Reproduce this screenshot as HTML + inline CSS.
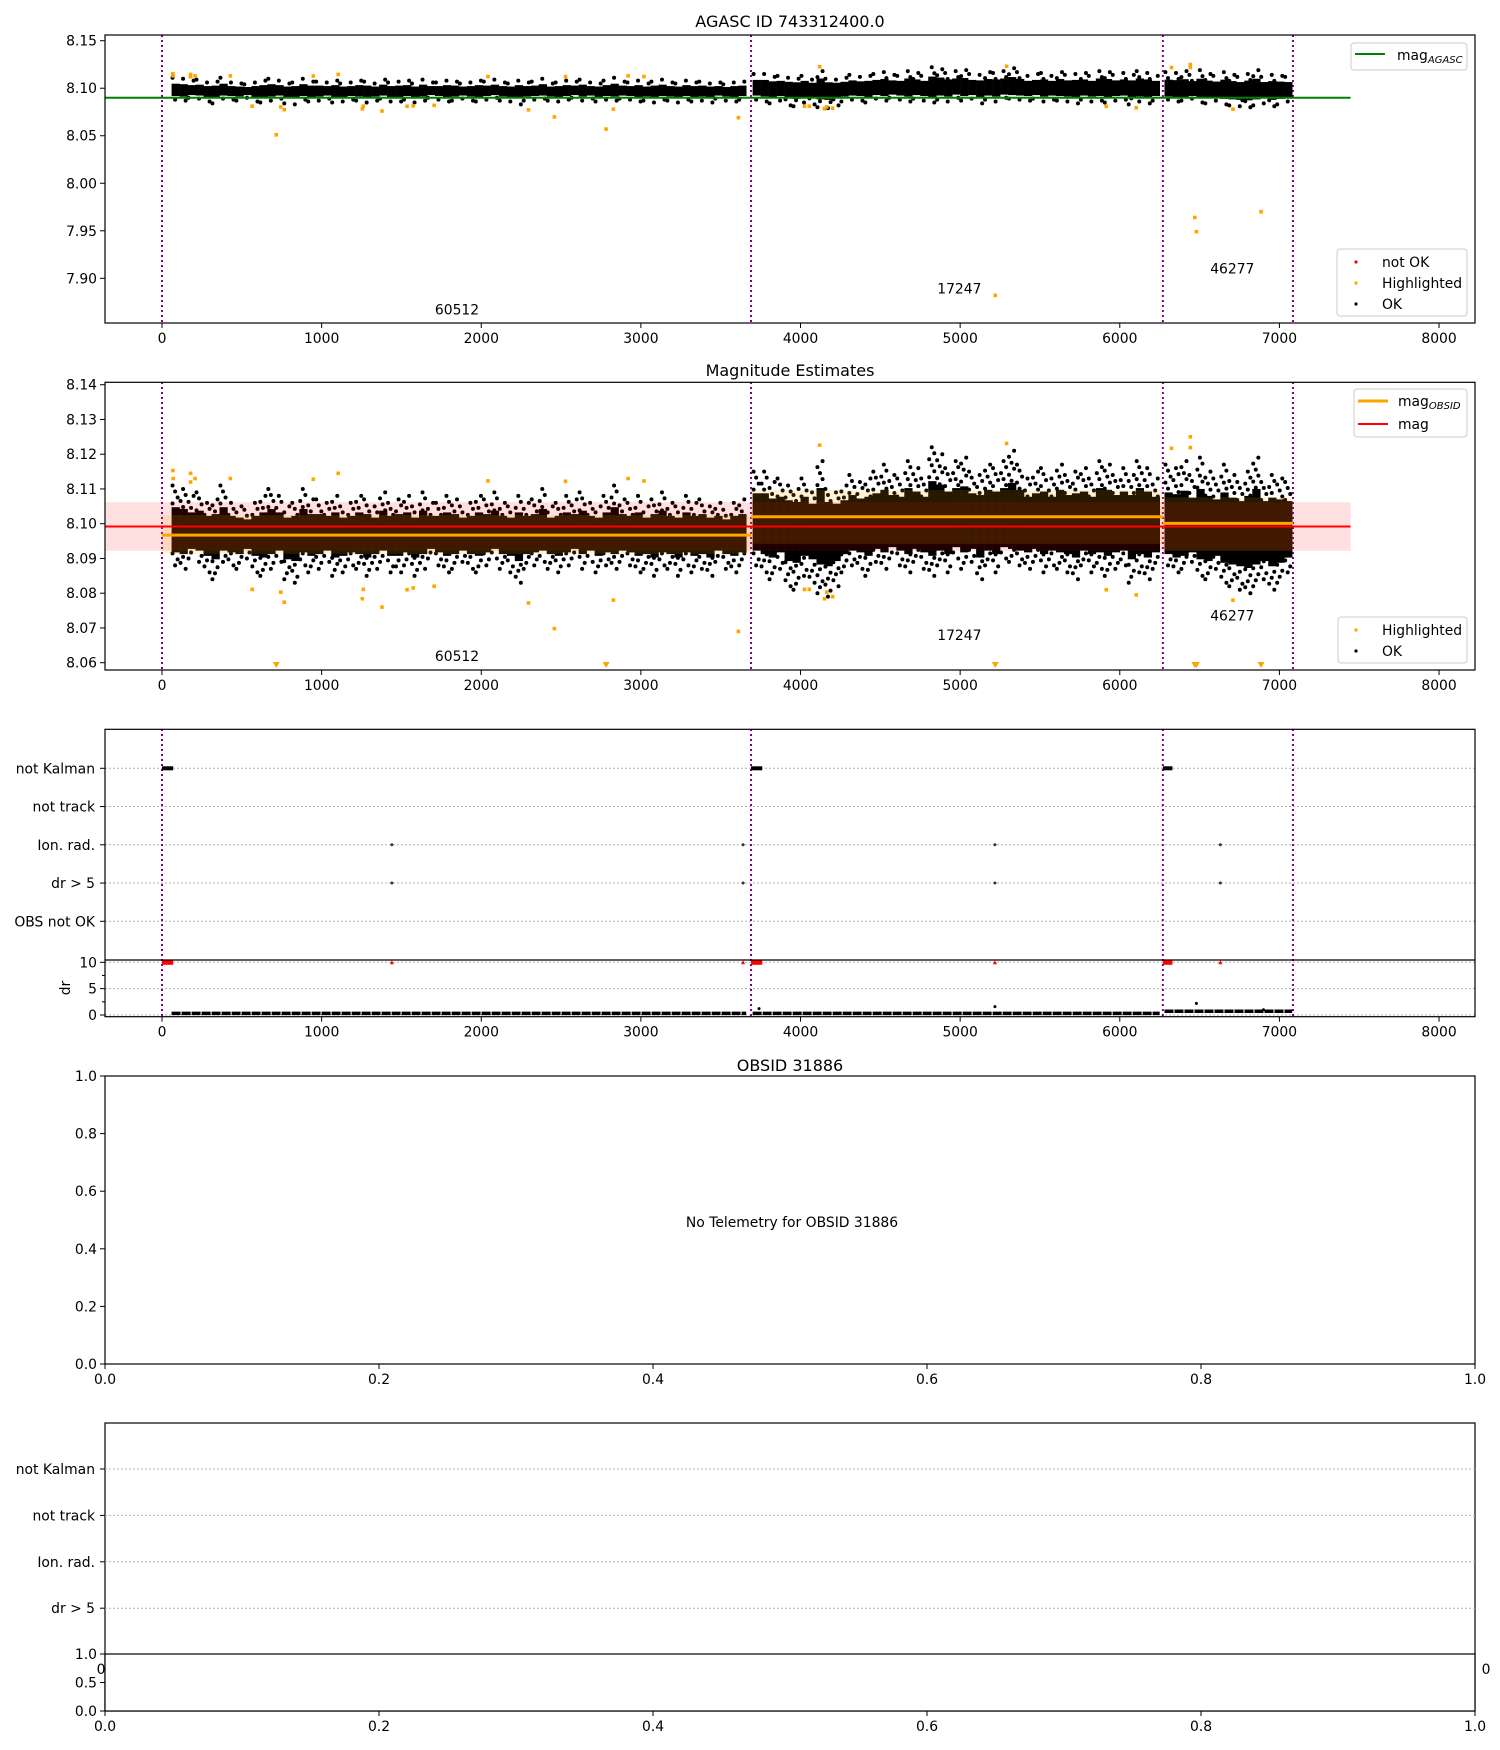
<!DOCTYPE html>
<html><head><meta charset="utf-8">
<style>
html,body{margin:0;padding:0;background:#fff;}
svg{display:block;font-family:"DejaVu Sans","Liberation Sans",sans-serif;}
</style></head>
<body>
<svg id="fig" width="1500" height="1750" viewBox="0 0 1500 1750" xmlns="http://www.w3.org/2000/svg"></svg>
<script>
// ---------- data ----------
const segStarts = [60, 3700, 6280];
const segBounds = [0, 3690, 6270, 7085];
const obsidLabels = ["60512", "17247", "46277"];
const obsidLabelT = [1848, 4995, 6705];
const agascMag = 8.090;
const meanMag = 8.0992;
const meanLo = 8.0922, meanHi = 8.1062;
const obsMag = [8.0967, 8.1020, 8.1001];
const obsLo = [8.0913, 8.0942, 8.0922];
const obsHi = [8.1025, 8.1097, 8.1076];
const coreLo = [8.0915, 8.0925, 8.0905];
const coreHi = [8.1035, 8.1075, 8.1060];
const hi1 = [8.111,8.110,8.108,8.109,8.106,8.107,8.111,8.106,8.105,8.104,8.106,8.108,
8.110,8.108,8.105,8.106,8.110,8.107,8.107,8.106,8.108,8.105,8.106,8.108,
8.107,8.105,8.109,8.106,8.107,8.108,8.105,8.109,8.106,8.106,8.108,8.107,
8.105,8.106,8.108,8.107,8.109,8.106,8.105,8.108,8.106,8.107,8.110,8.105,
8.106,8.108,8.107,8.109,8.106,8.105,8.108,8.111,8.107,8.106,8.108,8.105,
8.107,8.109,8.106,8.105,8.108,8.106,8.107,8.105,8.106,8.104,8.106,8.107];
const lo1 = [8.088,8.087,8.090,8.089,8.086,8.084,8.089,8.088,8.087,8.090,8.086,8.085,
8.087,8.089,8.084,8.083,8.088,8.086,8.087,8.089,8.085,8.086,8.088,8.087,
8.085,8.087,8.089,8.086,8.086,8.088,8.085,8.087,8.090,8.088,8.086,8.087,
8.089,8.087,8.086,8.088,8.090,8.087,8.086,8.083,8.087,8.088,8.089,8.087,
8.086,8.088,8.090,8.087,8.089,8.086,8.088,8.087,8.089,8.088,8.086,8.087,
8.085,8.088,8.087,8.085,8.088,8.086,8.087,8.085,8.089,8.087,8.086,8.088];
const hi2 = [8.115,8.115,8.112,8.113,8.111,8.110,8.113,8.109,8.118,8.110,8.109,8.111,
8.114,8.112,8.113,8.115,8.117,8.114,8.113,8.118,8.116,8.113,8.122,8.120,
8.116,8.118,8.119,8.115,8.114,8.117,8.116,8.118,8.121,8.117,8.113,8.115,
8.116,8.113,8.117,8.114,8.115,8.116,8.113,8.118,8.117,8.114,8.116,8.114,
8.118,8.116,8.113];
const lo2 = [8.088,8.086,8.084,8.087,8.082,8.081,8.085,8.083,8.080,8.079,8.082,8.086,
8.088,8.087,8.085,8.089,8.087,8.090,8.088,8.086,8.089,8.087,8.085,8.088,
8.086,8.090,8.087,8.089,8.084,8.088,8.086,8.090,8.089,8.088,8.087,8.089,
8.086,8.088,8.087,8.086,8.084,8.088,8.086,8.087,8.085,8.087,8.088,8.083,
8.086,8.084,8.087];
const hi3 = [8.117,8.116,8.118,8.114,8.119,8.115,8.113,8.117,8.114,8.112,8.115,8.119,8.112,8.114,8.113,8.112];
const lo3 = [8.088,8.086,8.087,8.089,8.085,8.084,8.087,8.083,8.082,8.081,8.080,8.082,8.084,8.081,8.083,8.086];
const segHi = [hi1, hi2, hi3];
const segLo = [lo1, lo2, lo3];
const binW = 50;
const hlT = [68,70,179,179,207,428,565,744,766,948,1104,1261,1255,1378,1535,1574,1705,2042,2296,2458,2528,2828,2920,3019,3611,
  4120,4025,4055,4150,4164,4201,5291,5915,6103,6324,6442,6442,6709,
  716,2782,5220,6470,6480,6885];
const hlMag = [8.1153,8.113,8.1145,8.112,8.113,8.113,8.0811,8.0803,8.0774,8.1128,8.1145,8.0811,8.0784,8.0760,8.081,8.0815,8.082,8.1123,8.0772,8.0698,8.1122,8.078,8.113,8.1123,8.0690,
  8.1226,8.0811,8.0811,8.0784,8.0803,8.079,8.1231,8.081,8.0795,8.1217,8.125,8.1219,8.078,
  8.051,8.057,7.882,7.964,7.949,7.970];
const notKalmanStart = [0, 3690, 6270];
const notKalmanEnd = [70, 3760, 6330];
const ionT = [1440, 3640, 5218, 6630];
const drLevel = [0.3, 0.3, 0.7];
const drOutT = [3740, 5218, 6480, 6900];
const drOutV = [1.2, 1.6, 2.2, 1.0];
const flagCats = ["not Kalman", "not track", "Ion. rad.", "dr > 5", "OBS not OK"];
const xTicks = [0,1000,2000,3000,4000,5000,6000,7000,8000];
const yTicks1 = [7.90,7.95,8.00,8.05,8.10,8.15];
const yTicks2 = [8.06,8.07,8.08,8.09,8.10,8.11,8.12,8.13,8.14];
const drTicks = [0,5,10];
const fracTicks = [0.0,0.2,0.4,0.6,0.8,1.0];
const lowTicks = [0.0,0.5,1.0];

// ---------- helpers ----------
const NS = "http://www.w3.org/2000/svg";
const svg = document.getElementById("fig");
function el(tag, attrs, parent, text) {
  const e = document.createElementNS(NS, tag);
  for (const k in attrs) e.setAttribute(k, attrs[k]);
  if (text !== undefined) e.textContent = text;
  (parent || svg).appendChild(e);
  return e;
}
const L = 105, R = 1475;
const xs = t => 162 + t * 0.15963;
const fx = f => L + f * (R - L);
function lin(v0, p0, v1, p1) { return v => p0 + (v - v0) * (p1 - p0) / (v1 - v0); }
const y1 = lin(8.15, 40.7, 7.90, 278.3);
const y2 = lin(8.14, 384.7, 8.06, 662.7);
const yCat = i => 768.3 + i * 38.25;
const yDr = lin(10, 962.3, 0, 1015);
const y4 = lin(1, 1076, 0, 1364);
const yCat5 = i => 1469 + i * 46.4;
const y5 = lin(1, 1654, 0, 1711);

function frame(g, top, bot, name) {
  const r = el("rect", {x:L, y:top, width:R-L, height:bot-top, fill:"none", stroke:"#000", "stroke-width":1.2}, g);
  
  
}
function xAxis(g, bot, ticks, fmt, posf) {
  ticks.forEach(t => {
    const x = posf(t);
    el("line", {x1:x, x2:x, y1:bot, y2:bot+5, stroke:"#000", "stroke-width":1}, g);
    const tx = el("text", {x:x, y:bot+20, "font-size":13.9, "text-anchor":"middle"}, g, fmt(t));
    
    
  });
}
function yAxis(g, ticks, fmt, posf) {
  ticks.forEach(v => {
    const y = posf(v);
    el("line", {x1:L-5, x2:L, y1:y, y2:y, stroke:"#000", "stroke-width":1}, g);
    const tx = el("text", {x:L-8, y:y+5, "font-size":13.9, "text-anchor":"end"}, g, fmt(v));
    
    
  });
}
function title(txt, y, name) {
  const t = el("text", {x:(L+R)/2, y:y, "font-size":16, "text-anchor":"middle"}, svg, txt);
  
  
}
function clip(id, top, bot) {
  const defs = el("defs", {});
  const cp = el("clipPath", {id:id}, defs);
  el("rect", {x:L, y:top, width:R-L, height:bot-top}, cp);
}
function vlines(g, top, bot) {
  segBounds.forEach(t => {
    const l = el("line", {x1:xs(t), x2:xs(t), y1:top, y2:bot, stroke:"#800080", "stroke-width":2, "stroke-dasharray":"2,3"}, g);
    
    
  });
}
function cloud(g, ys) {
  for (let s = 0; s < 3; s++) {
    const hi = segHi[s], lo = segLo[s];
    for (let i = 0; i < hi.length; i++) {
      const t0 = segStarts[s] + i * binW, t1 = t0 + binW;
      // ragged core edges driven by the bin extremes
      const cHi = coreHi[s] + (hi[i] - coreHi[s] - 0.005) * 0.5;
      const cLo = coreLo[s] + (lo[i] - coreLo[s] + 0.004) * 0.5;
      const ch = ys(cHi), cl = ys(cLo);
      const r = el("rect", {x:xs(t0), y:ch, width:xs(t1)-xs(t0)+0.3, height:cl-ch, fill:"#000"}, g);
      
      
      const yh = ys(hi[i]), yl = ys(lo[i]);
      const cols = [xs(t0 + 6), xs(t0 + 22), xs(t0 + 38)];
      let k = i;
      for (let y = yh; y < ch; y += 6, k++) {
        const c = el("circle", {cx:cols[k % 3], cy:y, r:2, fill:"#000"}, g);
        
        
      }
      k = i + 1;
      for (let y = yl; y > cl; y -= 6, k++) {
        const c = el("circle", {cx:cols[k % 3], cy:y, r:2, fill:"#000"}, g);
        
        
      }
    }
  }
}
function highlights(g, ys, ymin, bottomPx) {
  hlT.forEach((t, i) => {
    if (hlMag[i] < ymin) {
      const x = xs(t), y = bottomPx - 2;
      const p = el("path", {d:`M${x-3.5},${y-6} L${x+3.5},${y-6} L${x},${y} Z`, fill:"orange"}, g);
      
      
    } else {
      const c = el("rect", {x:xs(t)-1.8, y:ys(hlMag[i])-1.8, width:3.6, height:3.6, fill:"orange"}, g);
      
      
    }
  });
}
function legendBox(g, x, y, w, h, name) {
  const r = el("rect", {x:x, y:y, width:w, height:h, rx:3, fill:"#fff", "fill-opacity":0.8, stroke:"#ccc", "stroke-width":1}, g);
  
  
}
function legText(g, x, y, main, sub) {
  const t = el("text", {x:x, y:y, "font-size":13.9}, g, main);
  if (sub) {
    el("tspan", {"font-size":10, "font-style":"italic", dy:3}, t, sub);
  }
  
  
  return t;
}
function obsLabels(g, ys, mags) {
  obsidLabels.forEach((s, i) => {
    const t = el("text", {x:xs(obsidLabelT[i]), y:ys(mags[i]), "font-size":13.9, "text-anchor":"middle"}, g, s);
    
    
  });
}

// ---------- panel 1 ----------
title("AGASC ID 743312400.0", 27, "panel1-title");
clip("c1", 35, 323);
const g1 = el("g", {"clip-path":"url(#c1)"});


vlines(g1, 35, 323);
cloud(g1, y1);
highlights(g1, y1, 7.85, 323);
el("line", {x1:L, x2:xs(7446), y1:y1(agascMag), y2:y1(agascMag), stroke:"green", "stroke-width":2}, g1);
obsLabels(g1, y1, [7.862, 7.884, 7.905]);
const a1 = el("g", {});


frame(a1, 35, 323, "panel1-frame");
xAxis(a1, 323, xTicks, v => v, xs);
yAxis(a1, yTicks1, v => v.toFixed(2), y1);
legendBox(a1, 1351, 43, 116, 27, "legend-agasc");
el("line", {x1:1355, x2:1385, y1:54, y2:54, stroke:"green", "stroke-width":2}, a1);
legText(a1, 1397, 60, "mag", "AGASC");
legendBox(a1, 1337, 249, 130, 67, "legend-status");
el("circle", {cx:1356, cy:262, r:1.6, fill:"red"}, a1);
el("rect", {x:1354.5, y:281.5, width:3, height:3, fill:"orange"}, a1);
el("circle", {cx:1356, cy:304, r:1.6, fill:"#000"}, a1);
legText(a1, 1382, 267, "not OK");
legText(a1, 1382, 288, "Highlighted");
legText(a1, 1382, 309, "OK");

// ---------- panel 2 ----------
title("Magnitude Estimates", 376, "panel2-title");
clip("c2", 382.3, 670);
const g2 = el("g", {"clip-path":"url(#c2)"});


vlines(g2, 382, 670);
cloud(g2, y2);
const band = el("rect", {x:L, y:y2(meanHi), width:xs(7446)-L, height:y2(meanLo)-y2(meanHi), fill:"red", "fill-opacity":0.12}, g2);


for (let s = 0; s < 3; s++) {
  const x0 = xs(segBounds[s]), x1 = xs(segBounds[s+1]);
  const b = el("rect", {x:x0, y:y2(obsHi[s]), width:x1-x0, height:y2(obsLo[s])-y2(obsHi[s]), fill:"orange", "fill-opacity":0.15}, g2);
  
  
}
highlights(g2, y2, 8.0579, 670);
el("line", {x1:L, x2:xs(7446), y1:y2(meanMag), y2:y2(meanMag), stroke:"red", "stroke-width":2}, g2);
for (let s = 0; s < 3; s++) {
  const l = el("line", {x1:xs(segBounds[s]), x2:xs(segBounds[s+1]), y1:y2(obsMag[s]), y2:y2(obsMag[s]), stroke:"orange", "stroke-width":3}, g2);
  
  
}
obsLabels(g2, y2, [8.0605, 8.0665, 8.0722]);
const a2 = el("g", {});


frame(a2, 382.3, 670, "panel2-frame");
xAxis(a2, 670, xTicks, v => v, xs);
yAxis(a2, yTicks2, v => v.toFixed(2), y2);
legendBox(a2, 1354, 389, 113, 48, "legend-mag");
el("line", {x1:1358, x2:1388, y1:401, y2:401, stroke:"orange", "stroke-width":3}, a2);
el("line", {x1:1358, x2:1388, y1:424, y2:424, stroke:"red", "stroke-width":2}, a2);
legText(a2, 1398, 406, "mag", "OBSID");
legText(a2, 1398, 429, "mag");
legendBox(a2, 1338, 617, 129, 46, "legend-status2");
el("rect", {x:1354.5, y:628.5, width:3, height:3, fill:"orange"}, a2);
el("circle", {cx:1356, cy:651, r:1.6, fill:"#000"}, a2);
legText(a2, 1382, 635, "Highlighted");
legText(a2, 1382, 656, "OK");

// ---------- panel 3 ----------
clip("c3", 729.3, 1016.7);
const g3 = el("g", {"clip-path":"url(#c3)"});


flagCats.forEach((c, i) => {
  el("line", {x1:L, x2:R, y1:yCat(i), y2:yCat(i), stroke:"#b0b0b0", "stroke-width":1, "stroke-dasharray":"2,2"}, g3);
});
drTicks.forEach(v => {
  el("line", {x1:L, x2:R, y1:yDr(v), y2:yDr(v), stroke:"#b0b0b0", "stroke-width":1, "stroke-dasharray":"2,2"}, g3);
});
vlines(g3, 729, 1017);
notKalmanStart.forEach((t, i) => {
  const r = el("rect", {x:xs(t), y:yCat(0)-2, width:xs(notKalmanEnd[i])-xs(t), height:4, fill:"#000"}, g3);
  
  
  const r2 = el("rect", {x:xs(t), y:yDr(10)-2.5, width:xs(notKalmanEnd[i])-xs(t), height:5, fill:"red"}, g3);
  
  
});
ionT.forEach(t => {
  [2, 3].forEach(row => {
    const c = el("circle", {cx:xs(t), cy:yCat(row), r:1.5, fill:"#333"}, g3);
    
    
  });
  const c = el("path", {d:`M${xs(t)-2},${yDr(10)+2} L${xs(t)+2},${yDr(10)+2} L${xs(t)},${yDr(10)-2} Z`, fill:"red"}, g3);
  
  
});
for (let s = 0; s < 3; s++) {
  const t0 = segStarts[s], t1 = segStarts[s] + segHi[s].length * binW;
  const l = el("line", {x1:xs(t0), x2:xs(t1), y1:yDr(drLevel[s]), y2:yDr(drLevel[s]), stroke:"#000", "stroke-width":3.5, "stroke-dasharray":"9,1"}, g3);
  
  
}
drOutT.forEach((t, i) => {
  const c = el("circle", {cx:xs(t), cy:yDr(drOutV[i]), r:1.5, fill:"#000"}, g3);
  
  
});
const a3 = el("g", {});


frame(a3, 729.3, 1016.7, "panel3-frame");
el("line", {x1:L, x2:R, y1:960, y2:960, stroke:"#000", "stroke-width":1.2}, a3);
xAxis(a3, 1016.7, xTicks, v => v, xs);
flagCats.forEach((c, i) => {
  el("line", {x1:L-5, x2:L, y1:yCat(i), y2:yCat(i), stroke:"#000"}, a3);
  const t = el("text", {x:L-10, y:yCat(i)+5, "font-size":13.9, "text-anchor":"end"}, a3, c);
  
  
});
yAxis(a3, drTicks, v => v, yDr);
[2.5, 7.5].forEach(v => el("line", {x1:L-3, x2:L, y1:yDr(v), y2:yDr(v), stroke:"#000"}, a3));
const drl = el("text", {x:0, y:0, "font-size":13.9, "text-anchor":"middle", transform:"translate(70,988) rotate(-90)"}, a3, "dr");



// ---------- panel 4 ----------
title("OBSID 31886", 1071, "panel4-title");
const a4 = el("g", {});


frame(a4, 1076, 1364, "panel4-frame");
xAxis(a4, 1364, fracTicks, v => v.toFixed(1), fx);
yAxis(a4, fracTicks, v => v.toFixed(1), y4);
const nt = el("text", {x:792, y:1227, "font-size":13.9, "text-anchor":"middle"}, a4, "No Telemetry for OBSID 31886");



// ---------- panel 5 ----------
const a5 = el("g", {});


frame(a5, 1423, 1711, "panel5-frame");
["0", "0"].forEach((s, i) => {
  const t = el("text", {x:i ? R + 11 : L - 4, y:1674, "font-size":13.9, "text-anchor":"middle"}, a5, s);
  
  
});
flagCats.slice(0, 4).forEach((c, i) => {
  el("line", {x1:L, x2:R, y1:yCat5(i), y2:yCat5(i), stroke:"#b0b0b0", "stroke-width":1, "stroke-dasharray":"2,2"}, a5);
  el("line", {x1:L-5, x2:L, y1:yCat5(i), y2:yCat5(i), stroke:"#000"}, a5);
  const t = el("text", {x:L-10, y:yCat5(i)+5, "font-size":13.9, "text-anchor":"end"}, a5, c);
  
  
});
const lowBg = el("rect", {x:L, y:1654, width:R-L, height:57, fill:"#fff", stroke:"#000", "stroke-width":1.2}, a5);


xAxis(a5, 1711, fracTicks, v => v.toFixed(1), fx);
yAxis(a5, lowTicks, v => v.toFixed(1), y5);
</script>
</body></html>
